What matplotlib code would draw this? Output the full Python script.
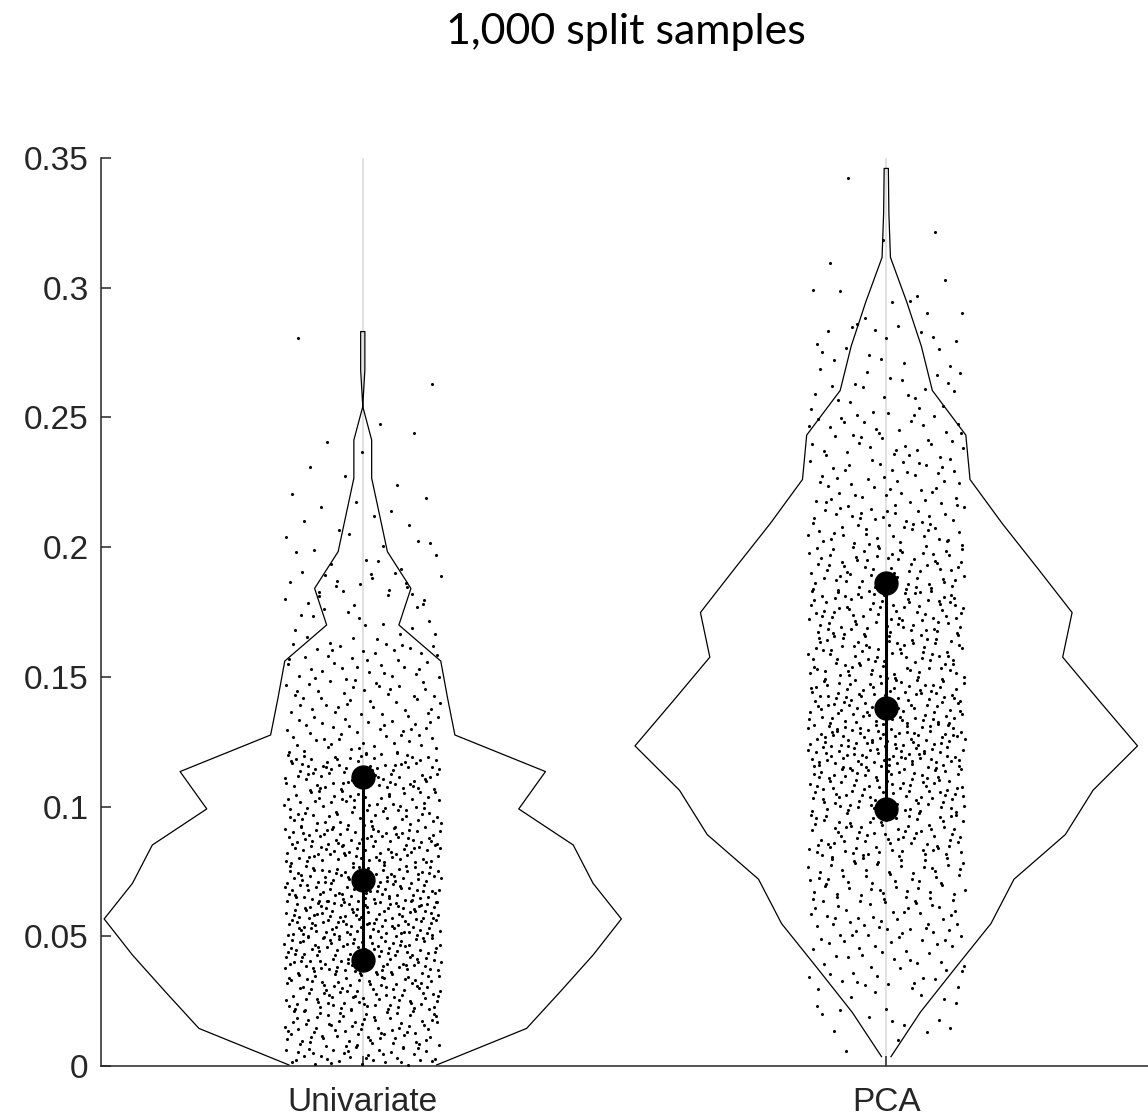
import numpy as np
import matplotlib
matplotlib.use('Agg')
import matplotlib.pyplot as plt

# Daten
groups = ['Univariate', 'PCA']

# Stützstellen der Violin-Kontur (y) und halbe Breite (x-Einheiten)
uni_y = [0.0004, 0.0145, 0.0286, 0.0428, 0.0567, 0.0704, 0.0852, 0.0991, 0.1135, 0.1276, 0.1418,
         0.1561, 0.1700, 0.1841, 0.1983, 0.2125, 0.2266, 0.2413, 0.2542, 0.2683, 0.2831]
uni_w = [0.141, 0.313, 0.377, 0.440, 0.494, 0.440, 0.402, 0.298, 0.349, 0.176, 0.162,
         0.149, 0.069, 0.092, 0.047, 0.032, 0.017, 0.017, 0.0, 0.004, 0.004]
uni_counts = [35, 78, 94, 109, 123, 109, 100, 74, 87, 44, 40, 37, 17, 23, 12, 8, 4, 4, 0, 1, 1]
uni_quart = [0.0409, 0.0717, 0.1114]

pca_y = [0.0036, 0.0207, 0.0378, 0.0549, 0.0720, 0.0892, 0.1063, 0.1234, 0.1405, 0.1576, 0.1748,
         0.1919, 0.2090, 0.2261, 0.2432, 0.2604, 0.2775, 0.2946, 0.3117, 0.3288, 0.3460]
pca_w = [0.009, 0.065, 0.132, 0.200, 0.244, 0.342, 0.395, 0.480, 0.408, 0.337, 0.355,
         0.289, 0.222, 0.160, 0.152, 0.088, 0.067, 0.039, 0.008, 0.005, 0.004]
pca_counts = [2, 16, 33, 50, 61, 85, 99, 121, 102, 84, 89, 72, 55, 40, 38, 22, 17, 10, 2, 1, 1]
pca_quart = [0.0991, 0.1380, 0.1862]

yticks = [0, 0.05, 0.1, 0.15, 0.2, 0.25, 0.3, 0.35]
ytick_labels = ['0', '0.05', '0.1', '0.15', '0.2', '0.25', '0.3', '0.35']


def halton(i, base):
    f, r = 1.0, 0.0
    while i > 0:
        f /= base
        r += f * (i % base)
        i //= base
    return r


def punkte(ys, counts, start):
    # Punkte pro Klasse gleichmaessig (Halton-Folge) in der Klasse verteilen
    ys = np.array(ys)
    h = (ys[-1] - ys[0]) / (len(ys) - 1) / 2
    px, py = [], []
    idx = start
    for yk, n in zip(ys, counts):
        lo = max(yk - h, ys[0])
        hi = min(yk + h, ys[-1])
        for _ in range(n):
            idx += 1
            py.append(lo + halton(idx, 2) * (hi - lo))
            px.append(halton(idx, 3) - 0.5)
    return np.array(px), np.array(py)


fig = plt.figure(figsize=(11.48, 11.2), dpi=100)
ax = fig.add_axes([0.088, 0.0482, 0.912, 0.8107])

data = [(uni_y, uni_w, uni_counts, uni_quart, 17), (pca_y, pca_w, pca_counts, pca_quart, 4001)]

for pos, (ys, ws, counts, quart, start) in zip([1, 2], data):
    ax.axvline(pos, color='#dcdcdc', lw=1.2, zorder=0)
    ys = np.array(ys)
    ws = np.array(ws)
    # Kontur: linke Seite hoch, rechte Seite runter
    cx = np.concatenate([pos - ws, (pos + ws)[::-1]])
    cy = np.concatenate([ys, ys[::-1]])
    ax.plot(cx, cy, color='black', lw=0.9, zorder=2)
    jx, jy = punkte(ys, counts, start)
    ax.scatter(pos + jx * 0.3, jy, s=5, color='black', linewidths=0, zorder=3)
    ax.plot([pos, pos], [quart[0], quart[2]], color='black', lw=2.2, zorder=4)
    ax.plot([pos] * 3, quart, 'o', color='black', markersize=16.5, zorder=5)

ax.set_xlim(0.5, 2.5)
ax.set_ylim(0, 0.35)
ax.set_xticks([1, 2])
ax.set_xticklabels(groups)
ax.set_yticks(yticks)
ax.set_yticklabels(ytick_labels)

for s in ['top', 'right']:
    ax.spines[s].set_visible(False)
for s in ['left', 'bottom']:
    ax.spines[s].set_color('#262626')
    ax.spines[s].set_linewidth(1.1)

ax.tick_params(direction='in', length=7, width=1.1, color='#262626',
               labelsize=24, labelcolor='#262626')
ax.tick_params(axis='y', pad=9)
ax.tick_params(axis='x', pad=15)
for lab in ax.get_xticklabels() + ax.get_yticklabels():
    lab.set_fontfamily('Liberation Sans')

fig.text(0.545, 0.971, '1,000 split samples', ha='center', va='center',
         fontsize=31, family='Lato', color='black')

fig.savefig('out.png', dpi=100)
